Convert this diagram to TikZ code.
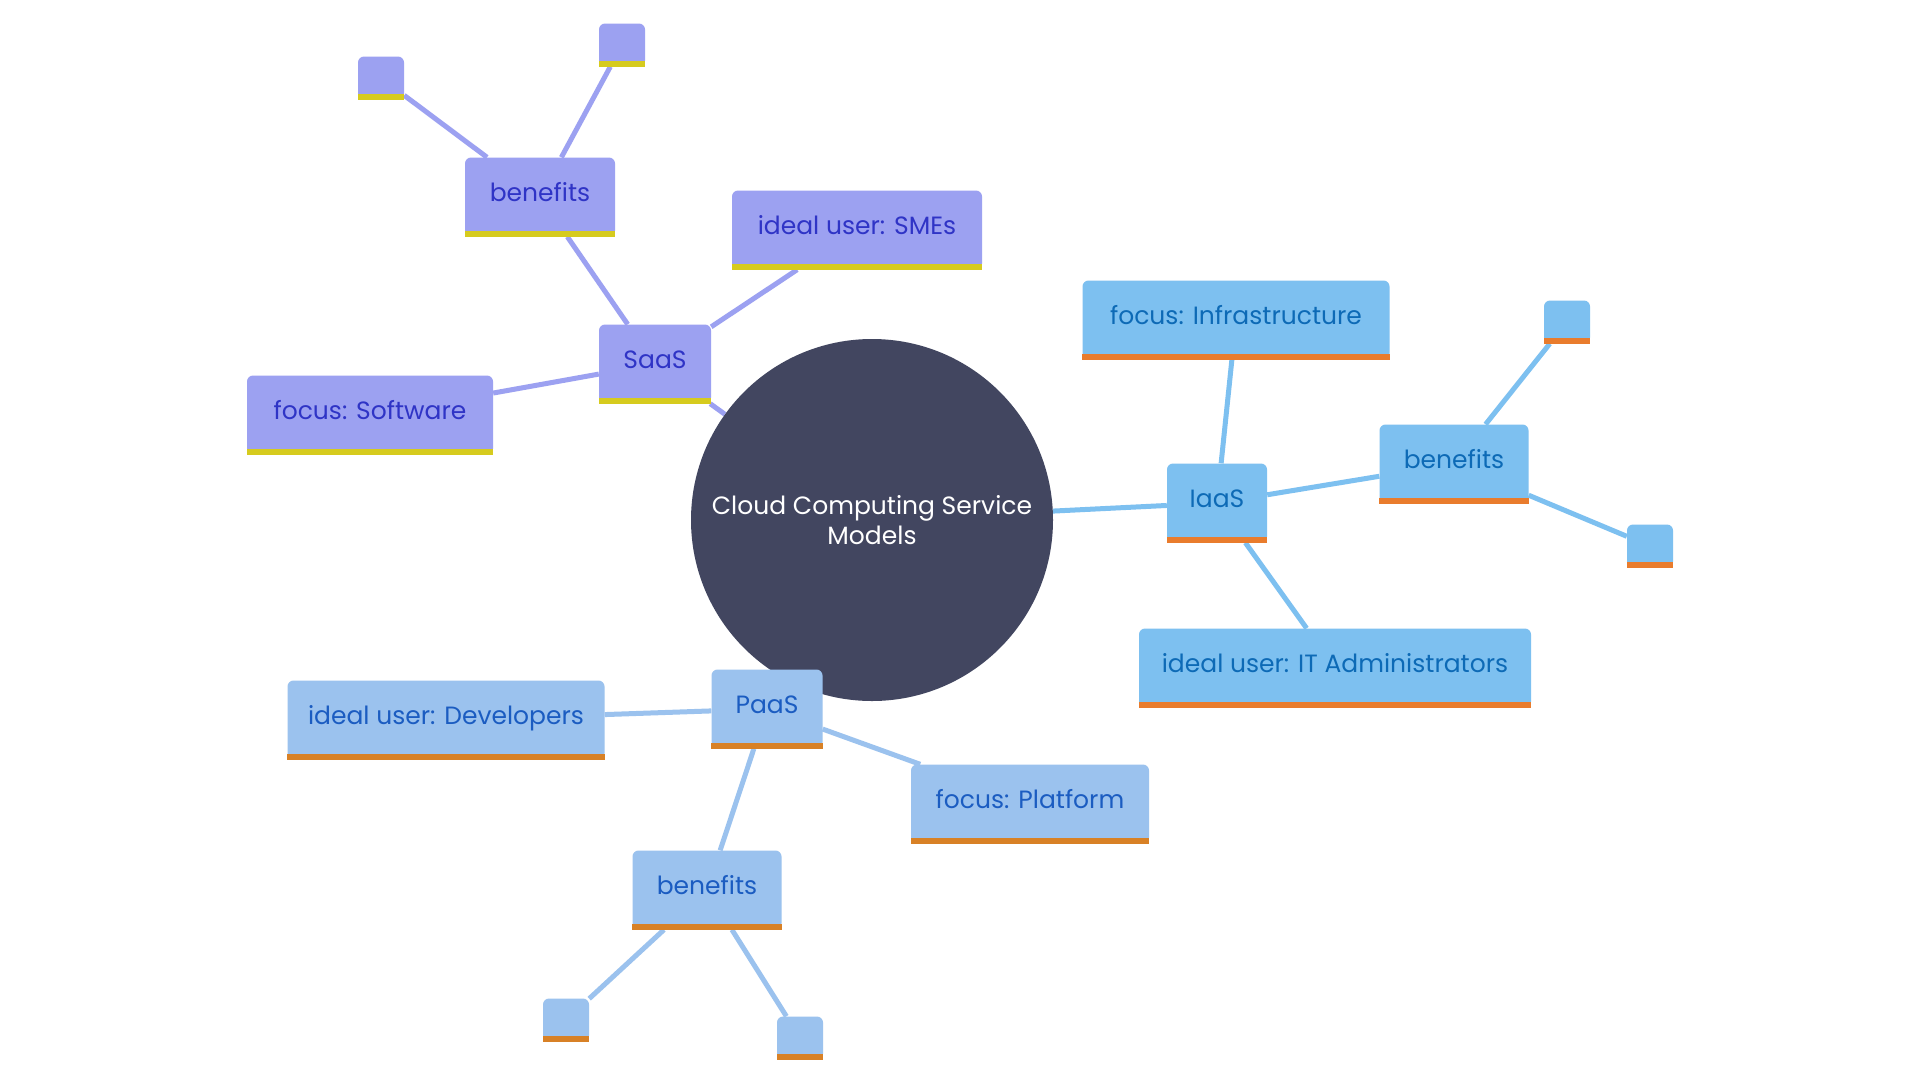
\documentclass[tikz,border=0pt]{standalone}
\usepackage{fontspec}
\setmainfont{Poppins}
\usetikzlibrary{backgrounds}
\definecolor{saasFill}{HTML}{9CA1F1}
\definecolor{saasText}{HTML}{2F34C6}
\definecolor{saasBar}{HTML}{D6CB1E}
\definecolor{iaasFill}{HTML}{7DC0F0}
\definecolor{iaasText}{HTML}{0D6AB6}
\definecolor{iaasBar}{HTML}{E97C2D}
\definecolor{paasFill}{HTML}{9BC2EE}
\definecolor{paasText}{HTML}{1B5CC1}
\definecolor{paasBar}{HTML}{D88126}
\definecolor{rootFill}{HTML}{424660}
\newcommand{\barBelow}[2]{%%
  %% Square coloured strip along the bottom edge of a box.
  \fill[#2] (#1.south west) rectangle ([yshift=6pt]#1.south east);
}
\begin{document}
\begin{tikzpicture}[x=1pt,y=-1pt,%%
  boxStyle/.style={rectangle,rounded corners=6pt,inner sep=0pt,
    minimum height=79pt,text height=18pt,text depth=9pt,
    font=\fontsize{25}{29}\selectfont},
  leafStyle/.style={rectangle,rounded corners=6pt,inner sep=0pt,
    minimum width=46pt,minimum height=43pt},
  saasBox/.style={boxStyle,fill=saasFill,text=saasText},
  iaasBox/.style={boxStyle,fill=iaasFill,text=iaasText},
  paasBox/.style={boxStyle,fill=paasFill,text=paasText},
  linkStyle/.style={line width=5pt}
]
\useasboundingbox (0,0) rectangle (1920,1080);
%%
%% Root of the map.
\node[circle,fill=rootFill,minimum size=362pt,text=white,align=center,
  font=\fontsize{25}{30}\selectfont] (root) at (872,520)
  {Cloud Computing Service\\Models};
%%
%% SaaS branch.
\node[saasBox,minimum width=112pt] (saas) at (655,364) {SaaS};
\node[saasBox,minimum width=150pt] (saasBen) at (540,197) {benefits};
\node[saasBox,minimum width=250pt] (saasUser) at (857,230) {ideal user: SMEs};
\node[saasBox,minimum width=246pt] (saasFocus) at (370,415) {focus: Software};
\node[leafStyle,fill=saasFill] (saasLeafA) at (381,78) {};
\node[leafStyle,fill=saasFill] (saasLeafB) at (622,45) {};
%%
%% IaaS branch.
\node[iaasBox,minimum width=100pt] (iaas) at (1217,503) {IaaS};
\node[iaasBox,minimum width=307pt] (iaasFocus) at (1236,320) {focus: Infrastructure};
\node[iaasBox,minimum width=149pt] (iaasBen) at (1454,464) {benefits};
\node[iaasBox,minimum width=392pt] (iaasUser) at (1335,668) {ideal user: IT Administrators};
\node[leafStyle,fill=iaasFill] (iaasLeafA) at (1567,322) {};
\node[leafStyle,fill=iaasFill] (iaasLeafB) at (1650,546) {};
%%
%% PaaS branch.
\node[paasBox,minimum width=111pt] (paas) at (767,709) {PaaS};
\node[paasBox,minimum width=317pt] (paasUser) at (446,720) {ideal user: Developers};
\node[paasBox,minimum width=238pt] (paasFocus) at (1030,804) {focus: Platform};
\node[paasBox,minimum width=149pt] (paasBen) at (707,890) {benefits};
\node[leafStyle,fill=paasFill] (paasLeafA) at (566,1020) {};
\node[leafStyle,fill=paasFill] (paasLeafB) at (800,1038) {};
%%
%% Strips under the boxes.
\foreach \n in {saas,saasBen,saasUser,saasFocus,saasLeafA,saasLeafB}
  {\barBelow{\n}{saasBar}}
\foreach \n in {iaas,iaasFocus,iaasBen,iaasUser,iaasLeafA,iaasLeafB}
  {\barBelow{\n}{iaasBar}}
\foreach \n in {paas,paasUser,paasFocus,paasBen,paasLeafA,paasLeafB}
  {\barBelow{\n}{paasBar}}
%%
%% Links, kept behind the boxes, on a white sheet.
\begin{scope}[on background layer]
\fill[white] (0,0) rectangle (1920,1080);
\foreach \a/\b in {root/saas,saas/saasBen,saas/saasUser,saas/saasFocus,
    saasBen/saasLeafA,saasBen/saasLeafB}
  \draw[linkStyle,saasFill] (\a) -- (\b);
\foreach \a/\b in {root/iaas,iaas/iaasFocus,iaas/iaasBen,iaas/iaasUser,
    iaasBen/iaasLeafA,iaasBen/iaasLeafB}
  \draw[linkStyle,iaasFill] (\a) -- (\b);
\foreach \a/\b in {root/paas,paas/paasUser,paas/paasFocus,paas/paasBen,
    paasBen/paasLeafA,paasBen/paasLeafB}
  \draw[linkStyle,paasFill] (\a) -- (\b);
\end{scope}

\end{tikzpicture}
\end{document}
